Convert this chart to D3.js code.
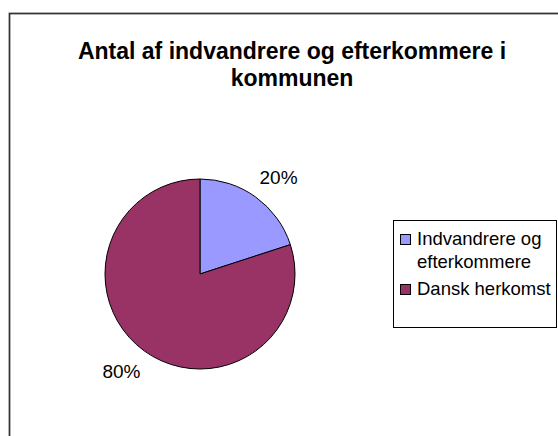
<!DOCTYPE html>
<html>
<head>
<meta charset="utf-8">
<script src="https://cdn.jsdelivr.net/npm/d3@7"></script>
<style>
  html, body { margin: 0; padding: 0; background: #fff; }
  svg { display: block; font-family: "Liberation Sans", Arial, sans-serif; }
</style>
</head>
<body>
<svg id="chart" width="558" height="436"></svg>
<script>
// data
const categories = ["Indvandrere og efterkommere", "Dansk herkomst"];
const legendLines = [["Indvandrere og", "efterkommere"], ["Dansk herkomst"]];
const values = [20, 80];
const colors = ["#9999FF", "#993366"];
const titleLines = ["Antal af indvandrere og efterkommere i", "kommunen"];

const svg = d3.select("#chart");

// outer chart frame (runs off the right and bottom edge)
svg.append("rect")
    .attr("x", 9.5).attr("y", 13.5)
    .attr("width", 600).attr("height", 500)
    .attr("fill", "#fff")
    .attr("stroke", "#333").attr("stroke-width", 1.75);

// title
svg.append("g").selectAll("text")
    .data(titleLines)
    .join("text")
    .attr("x", 292)
    .attr("y", (d, i) => 59 + i * 27)
    .attr("text-anchor", "middle")
    .attr("font-weight", "bold")
    .attr("font-size", 23)
    .attr("fill", "#000")
    .text(d => d);

// pie
const cx = 200, cy = 274, r = 95;
const pie = d3.pie().sort(null).value(d => d);
const arcs = pie(values);
const arc = d3.arc().innerRadius(0).outerRadius(r);
const labelArc = d3.arc().innerRadius(120).outerRadius(120);

const g = svg.append("g").attr("transform", `translate(${cx},${cy})`);
g.selectAll("path")
    .data(arcs)
    .join("path")
    .attr("d", arc)
    .attr("fill", (d, i) => colors[i])
    .attr("stroke", "#000")
    .attr("stroke-width", 1);

const total = d3.sum(values);
g.selectAll("text.lbl")
    .data(arcs)
    .join("text")
    .attr("class", "lbl")
    .attr("transform", d => {
        const [x, y] = labelArc.centroid(d);
        // push the label sideways, away from the pie
        return `translate(${x + Math.sign(x) * 8},${y})`;
    })
    .attr("text-anchor", "middle")
    .attr("dy", "0.35em")
    .attr("font-size", 19)
    .attr("fill", "#000")
    .text(d => Math.round(d.data / total * 100) + "%");

// legend
const legend = svg.append("g");
legend.append("rect")
    .attr("x", 393.5).attr("y", 220.5)
    .attr("width", 163).attr("height", 107)
    .attr("fill", "#fff")
    .attr("stroke", "#000").attr("stroke-width", 1);

const rowY = [234, 284];
const items = legend.selectAll("g.item")
    .data(categories)
    .join("g")
    .attr("class", "item")
    .attr("transform", (d, i) => `translate(400,${rowY[i]})`);

items.append("rect")
    .attr("x", 0.5).attr("y", 0.5)
    .attr("width", 10).attr("height", 10)
    .attr("fill", (d, i) => colors[i])
    .attr("stroke", "#000").attr("stroke-width", 1);

items.each(function (d, i) {
    d3.select(this).selectAll("text")
        .data(legendLines[i])
        .join("text")
        .attr("x", 17)
        .attr("y", (t, j) => 11 + j * 23)
        .attr("font-size", 18.5)
        .attr("fill", "#000")
        .text(t => t);
});
</script>
</body>
</html>
